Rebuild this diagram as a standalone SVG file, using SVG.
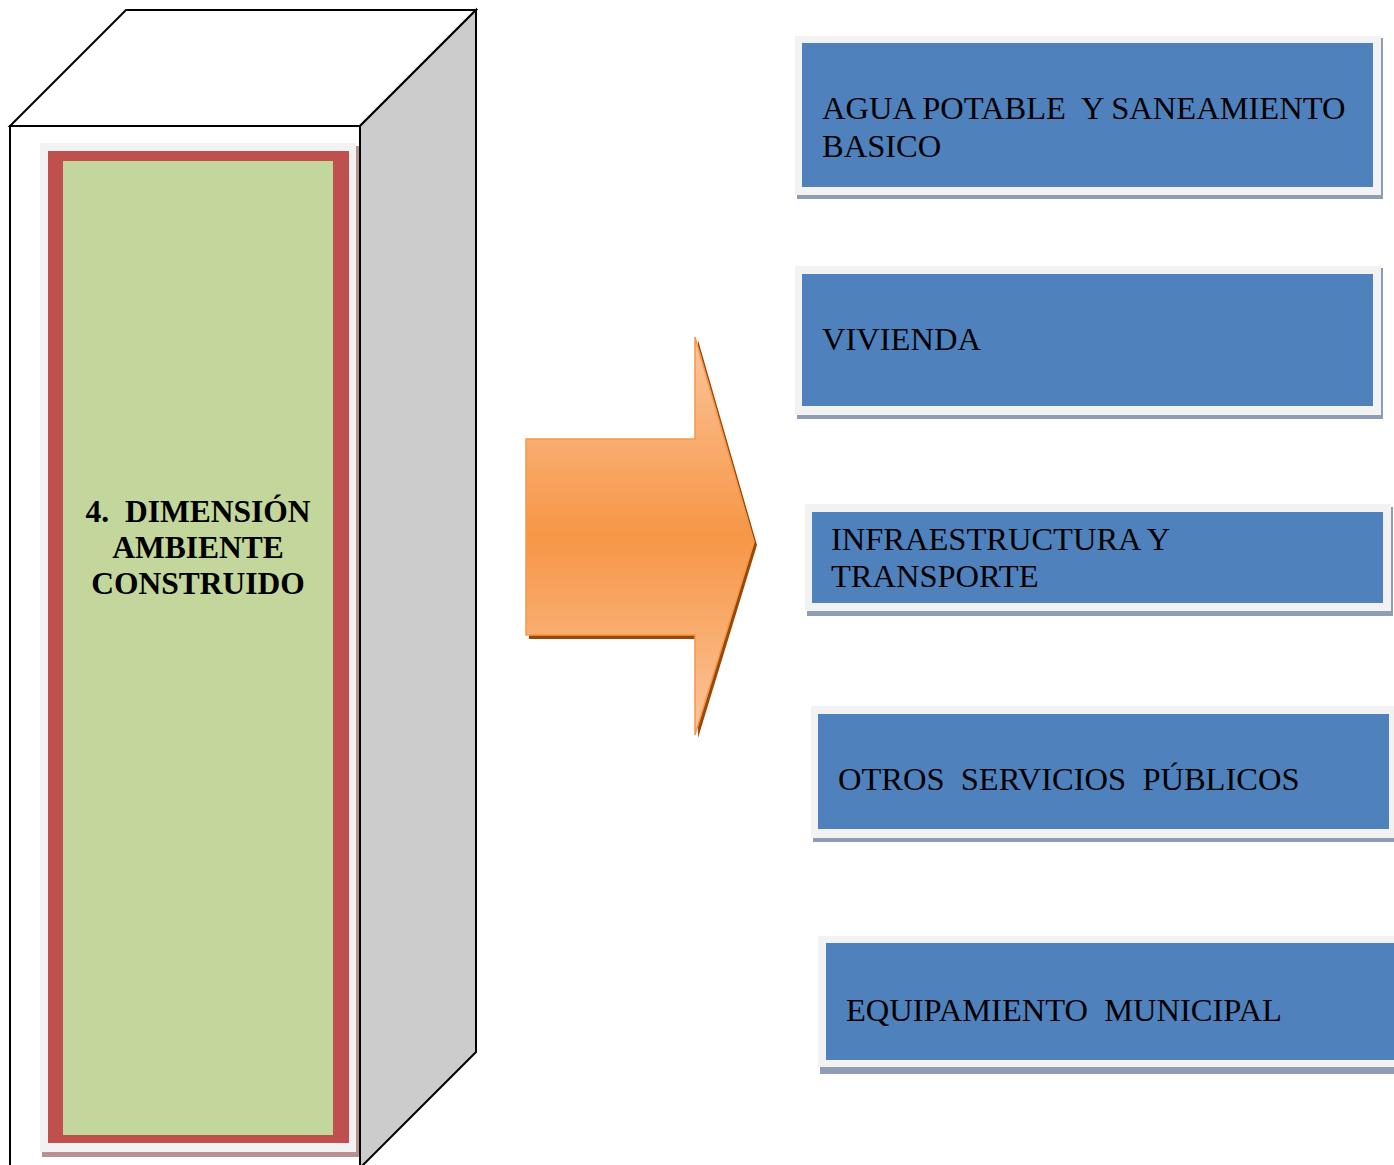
<svg xmlns="http://www.w3.org/2000/svg" width="1394" height="1165" viewBox="0 0 1394 1165">
<defs>
<linearGradient id="ag" x1="0" y1="337" x2="0" y2="735" gradientUnits="userSpaceOnUse">
<stop offset="0" stop-color="#fbc59c"/>
<stop offset="0.5" stop-color="#f79646"/>
<stop offset="1" stop-color="#fbc59c"/>
</linearGradient>
<style>
.edge{stroke:#000;stroke-width:2;stroke-linejoin:miter}
.frame{fill:#f2f2f2}
.bshadow{fill:#8e9db3}
.blue{fill:#4f81bd}
.t{font-family:"Liberation Serif","Times New Roman",serif;font-size:32.5px;fill:#000;white-space:pre}
.tb{font-family:"Liberation Serif","Times New Roman",serif;font-size:31.5px;font-weight:bold;fill:#000;text-anchor:middle;white-space:pre}
</style>
</defs>
<rect width="1394" height="1165" fill="#fff"/>

<g id="cube">
<polygon class="edge" points="10,126 126,10 476,10 360,126" fill="#fff"/>
<polygon class="edge" points="360,126 476,10 476,1052 360,1168" fill="#cccccc"/>
<polygon class="edge" points="10,126 360,126 360,1170 10,1170" fill="#fff"/>
</g>

<g id="dimension">
<rect x="42" y="146" width="317" height="1011" fill="#b89090"/>
<rect x="40" y="143" width="316" height="1009" class="frame"/>
<rect x="48" y="151" width="301" height="992" fill="#c0504d"/>
<rect x="63" y="161" width="270" height="974" fill="#c3d69b"/>
<text class="tb" x="198" y="522" xml:space="preserve">4.  DIMENSIÓN</text>
<text class="tb" x="198" y="558">AMBIENTE</text>
<text class="tb" x="198" y="594">CONSTRUIDO</text>
</g>

<g id="arrow">
<polygon points="529,442 698,442 698,340 757,545 698,738 698,639 529,639" fill="#984807"/>
<polygon points="526,439 695,439 695,337 754,542 695,735 695,635 526,635" fill="url(#ag)" stroke="#f79646" stroke-width="1.5"/>
</g>

<g id="box1">
<rect x="797" y="38" width="586" height="161" class="bshadow"/>
<rect x="795" y="36" width="586" height="159" class="frame"/>
<rect x="802" y="43" width="571" height="144" class="blue"/>
<text class="t" x="822" y="119" xml:space="preserve">AGUA POTABLE  Y SANEAMIENTO</text>
<text class="t" x="822" y="157">BASICO</text>
</g>

<g id="box2">
<rect x="797" y="268" width="586" height="151" class="bshadow"/>
<rect x="795" y="266" width="586" height="149" class="frame"/>
<rect x="802" y="274" width="571" height="132" class="blue"/>
<text class="t" x="822" y="350">VIVIENDA</text>
</g>

<g id="box3">
<rect x="807" y="507" width="586" height="109" class="bshadow"/>
<rect x="805" y="504" width="586" height="107" class="frame"/>
<rect x="812" y="512" width="571" height="91" class="blue"/>
<text class="t" x="831" y="550">INFRAESTRUCTURA Y</text>
<text class="t" x="831" y="587">TRANSPORTE</text>
</g>

<g id="box4">
<rect x="813" y="708" width="586" height="134" class="bshadow"/>
<rect x="811" y="706" width="586" height="132" class="frame"/>
<rect x="818" y="714" width="571" height="115" class="blue"/>
<text class="t" x="838" y="790" xml:space="preserve">OTROS  SERVICIOS  PÚBLICOS</text>
</g>

<g id="box5">
<rect x="820" y="938" width="586" height="136" class="bshadow"/>
<rect x="818" y="936" width="586" height="131" class="frame"/>
<rect x="826" y="943" width="571" height="117" class="blue"/>
<text class="t" x="846" y="1021" xml:space="preserve">EQUIPAMIENTO  MUNICIPAL</text>
</g>

<g id="connectors"></g>
</svg>
